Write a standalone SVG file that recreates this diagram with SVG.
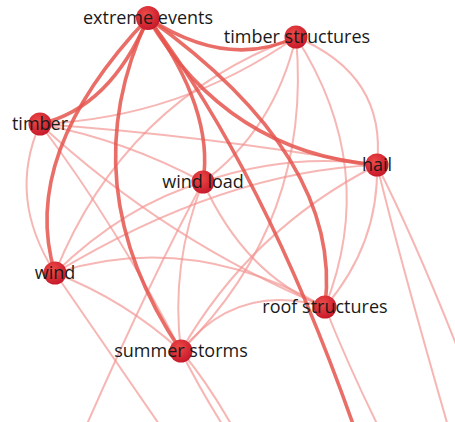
<svg xmlns="http://www.w3.org/2000/svg" width="455" height="422" viewBox="0 0 455 422">
<defs>
<radialGradient id="ng" cx="0.4" cy="0.35" r="0.7">
<stop offset="0" stop-color="#ee4a48"/>
<stop offset="1" stop-color="#c41628"/>
</radialGradient>
<style>
.strong{fill:none;stroke:#e5554e;stroke-opacity:0.85;stroke-width:3.6;stroke-linecap:round}
.weak{fill:none;stroke:#f29490;stroke-opacity:0.68;stroke-width:2;stroke-linecap:round}
.node{fill:url(#ng)}
.lbl{font-family:"Open Sans","DejaVu Sans",sans-serif;font-size:18px;fill:#1a1a1a;text-anchor:middle}
</style>
</defs>
<rect width="455" height="422" fill="#ffffff"/>
<g id="connectors">
<path class="weak" d="M40,124 Q181,118 296,37"/>
<path class="weak" d="M40,124 Q201,135 377,165"/>
<path class="weak" d="M40,124 Q125,140 203,182"/>
<path class="weak" d="M40,124 Q7,198 55,273"/>
<path class="weak" d="M40,124 Q118,228 181,351"/>
<path class="weak" d="M40,124 Q166,241 325,307"/>
<path class="weak" d="M296,37 Q387,75 377,165"/>
<path class="weak" d="M296,37 Q380,168 325,307"/>
<path class="weak" d="M296,37 Q313,221 181,351"/>
<path class="weak" d="M296,37 Q124,101 55,273"/>
<path class="weak" d="M296,37 Q274,130 203,182"/>
<path class="weak" d="M377,165 Q290,152 203,182"/>
<path class="weak" d="M377,165 Q224,171 55,273"/>
<path class="weak" d="M377,165 Q379,244 325,307"/>
<path class="weak" d="M377,165 Q251,229 181,351"/>
<path class="weak" d="M377,165 Q400,260 452,440"/>
<path class="weak" d="M377,165 Q420,250 470,380"/>
<path class="weak" d="M325,307 Q350,370 385,440"/>
<path class="weak" d="M203,182 Q125,205 55,273"/>
<path class="weak" d="M203,182 Q170,265 181,351"/>
<path class="weak" d="M203,182 Q245,275 325,307"/>
<path class="weak" d="M203,182 Q150,280 80,440"/>
<path class="weak" d="M55,273 Q105,345 170,440"/>
<path class="weak" d="M55,273 Q125,300 181,351"/>
<path class="weak" d="M55,273 Q190,230 325,307"/>
<path class="weak" d="M181,351 Q237,281 325,307"/>
<path class="weak" d="M181,351 Q200,390 232,440"/>
<path class="weak" d="M181,351 Q210,385 240,440"/>
<path class="strong" d="M148,18 Q110,108 40,124"/>
<path class="strong" d="M148,18 Q18.5,154.5 55,273"/>
<path class="strong" d="M148,18 Q69.5,185 181,351"/>
<path class="strong" d="M148,18 Q214.5,110 203,182"/>
<path class="strong" d="M148,18 Q228,70 296,37"/>
<path class="strong" d="M148,18 Q227.5,152.5 377,165"/>
<path class="strong" d="M148,18 Q343.5,157.5 325,307"/>
<path class="strong" d="M148,18 Q270,180 362,450"/>
</g>
<g id="n-extreme-events"><circle class="node" cx="148" cy="18" r="12"/><text class="lbl" x="148" y="24">extreme events</text></g>
<g id="n-timber-structures"><circle class="node" cx="296" cy="37" r="11.5"/><text class="lbl" x="297" y="43">timber structures</text></g>
<g id="n-timber"><circle class="node" cx="40" cy="124" r="11.5"/><text class="lbl" x="40" y="130">timber</text></g>
<g id="n-hail"><circle class="node" cx="377" cy="165" r="11.5"/><text class="lbl" x="377" y="171">hail</text></g>
<g id="n-wind-load"><circle class="node" cx="203" cy="182" r="11.5"/><text class="lbl" x="203" y="188">wind load</text></g>
<g id="n-wind"><circle class="node" cx="55" cy="273" r="11.5"/><text class="lbl" x="55" y="279">wind</text></g>
<g id="n-roof-structures"><circle class="node" cx="325" cy="307" r="11.5"/><text class="lbl" x="325" y="313">roof structures</text></g>
<g id="n-summer-storms"><circle class="node" cx="181" cy="351" r="11.5"/><text class="lbl" x="181" y="357">summer storms</text></g>
</svg>
